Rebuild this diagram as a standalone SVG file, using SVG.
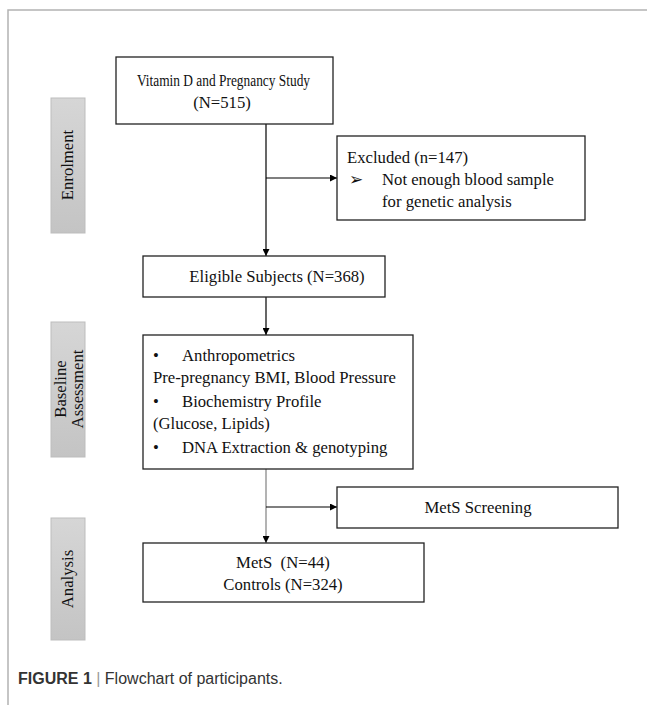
<svg xmlns="http://www.w3.org/2000/svg" width="647" height="705" viewBox="0 0 647 705">
<defs>
<linearGradient id="g" x1="0" y1="0" x2="0" y2="1">
<stop offset="0" stop-color="#d6d6d6"/>
<stop offset="1" stop-color="#c4c4c4"/>
</linearGradient>
<marker id="ah" viewBox="0 0 10 10" refX="10" refY="5" markerWidth="7" markerHeight="7" markerUnits="userSpaceOnUse" orient="auto">
<path d="M0,0 L10,5 L0,10 z" fill="#000"/>
</marker>
</defs>
<style>
.box{fill:#fff;stroke:#222;stroke-width:1.3}
.side{fill:url(#g);stroke:#bdbdbd;stroke-width:1}
.t{font-family:"Liberation Serif",serif;font-size:16.7px;fill:#111}
.c{text-anchor:middle}
.ln{fill:none;stroke:#000;stroke-width:1.2}
.lg{fill:none;stroke:#808080;stroke-width:1.2}
</style>
<rect width="647" height="705" fill="#fff"/>
<path d="M8,705 V10 H647" fill="none" stroke="#b3b3b3" stroke-width="1.5"/>

<g id="side-enrolment">
<rect class="side" x="51" y="98" width="34" height="135"/>
<text class="t c" transform="translate(73,165) rotate(-90)">Enrolment</text>
</g>
<g id="side-baseline">
<rect class="side" x="51" y="322" width="34" height="135"/>
<text class="t c" transform="translate(66,389) rotate(-90)">Baseline</text>
<text class="t c" transform="translate(83,389) rotate(-90)">Assessment</text>
</g>
<g id="side-analysis">
<rect class="side" x="51" y="518" width="34" height="122"/>
<text class="t c" transform="translate(73,579) rotate(-90)">Analysis</text>
</g>

<g id="connectors">
<path class="ln" d="M266,124 V256" marker-end="url(#ah)"/>
<path class="ln" d="M266,178 H337" marker-end="url(#ah)"/>
<path class="ln" d="M266,297 V335" marker-end="url(#ah)"/>
<path class="lg" d="M266,469 V543" marker-end="url(#ah)"/>
<path class="ln" d="M266,507 H337" marker-end="url(#ah)"/>
</g>

<g id="n-study">
<rect class="box" x="116" y="57" width="217" height="67"/>
<text class="t" x="137" y="86" textLength="173" lengthAdjust="spacingAndGlyphs">Vitamin D and Pregnancy Study</text>
<text class="t c" x="222" y="108">(N=515)</text>
</g>
<g id="n-excluded">
<rect class="box" x="337" y="136" width="248" height="84"/>
<text class="t" x="347" y="163">Excluded (n=147)</text>
<text class="t" x="349" y="185" font-size="13">➢</text>
<text class="t" x="382" y="185">Not enough blood sample</text>
<text class="t" x="382" y="207">for genetic analysis</text>
</g>
<g id="n-eligible">
<rect class="box" x="143" y="256" width="242" height="41"/>
<text class="t c" x="277" y="282">Eligible Subjects (N=368)</text>
</g>
<g id="n-baseline">
<rect class="box" x="143" y="335" width="270" height="134"/>
<text class="t" x="153" y="361">•</text>
<text class="t" x="182" y="361">Anthropometrics</text>
<text class="t" x="153" y="383">Pre-pregnancy BMI, Blood Pressure</text>
<text class="t" x="153" y="407">•</text>
<text class="t" x="182" y="407">Biochemistry Profile</text>
<text class="t" x="153" y="429">(Glucose, Lipids)</text>
<text class="t" x="153" y="453">•</text>
<text class="t" x="182" y="453">DNA Extraction &amp; genotyping</text>
</g>
<g id="n-screening">
<rect class="box" x="337" y="487" width="281" height="41"/>
<text class="t c" x="478" y="513">MetS Screening</text>
</g>
<g id="n-result">
<rect class="box" x="143" y="543" width="281" height="59"/>
<text class="t c" x="283" y="568" xml:space="preserve">MetS  (N=44)</text>
<text class="t c" x="283" y="590">Controls (N=324)</text>
</g>

<g id="caption">
<text x="18" y="684" font-family="Liberation Sans,Arial,sans-serif" font-size="16" fill="#333"><tspan font-weight="bold">FIGURE 1</tspan><tspan fill="#999"> | </tspan>Flowchart of participants.</text>
</g>
</svg>
